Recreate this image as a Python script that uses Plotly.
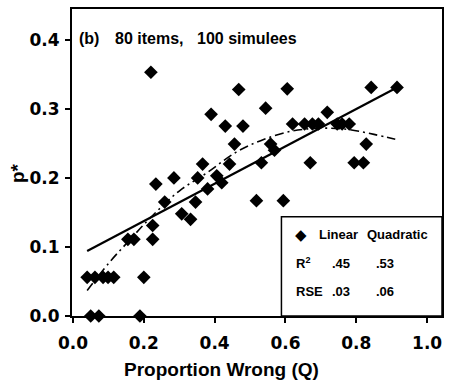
import plotly.graph_objects as go

# ---- data ----
prop_wrong = [0.22, 0.468, 0.39, 0.43, 0.48, 0.605, 0.544, 0.842, 0.915, 0.718,
              0.62, 0.654, 0.676, 0.693, 0.746, 0.76, 0.78,
              0.558, 0.569, 0.532, 0.67, 0.828, 0.794, 0.82, 0.518, 0.594,
              0.456, 0.366, 0.442, 0.285, 0.234, 0.352, 0.406, 0.42, 0.38,
              0.259, 0.346, 0.307, 0.332, 0.225, 0.225, 0.155, 0.172,
              0.04, 0.062, 0.085, 0.099, 0.115, 0.2,
              0.05, 0.073, 0.189]
p_star = [0.353, 0.328, 0.292, 0.275, 0.275, 0.329, 0.301, 0.331, 0.331, 0.295,
          0.278, 0.278, 0.278, 0.278, 0.278, 0.278, 0.278,
          0.249, 0.240, 0.222, 0.222, 0.249, 0.222, 0.222, 0.167, 0.167,
          0.249, 0.220, 0.220, 0.200, 0.191, 0.200, 0.203, 0.193, 0.184,
          0.165, 0.165, 0.148, 0.140, 0.131, 0.111, 0.111, 0.111,
          0.056, 0.056, 0.056, 0.056, 0.056, 0.056,
          0.0, 0.0, 0.0]

linear_x = [0.04, 0.915]
linear_y = [0.094, 0.331]

quad_x = [0.04, 0.10, 0.16, 0.22, 0.30, 0.38, 0.46, 0.54, 0.62, 0.70, 0.78, 0.85, 0.91]
quad_y = [0.037, 0.076, 0.110, 0.143, 0.181, 0.208, 0.237, 0.256, 0.268, 0.272, 0.270, 0.263, 0.256]

x_ticks = [0.0, 0.2, 0.4, 0.6, 0.8, 1.0]
x_tick_labels = ["0.0", "0.2", "0.4", "0.6", "0.8", "1.0"]
y_ticks = [0.0, 0.1, 0.2, 0.3, 0.4]
y_tick_labels = ["0.0", "0.1", "0.2", "0.3", "0.4"]

r2_values = [".45", ".53"]
rse_values = [".03", ".06"]

# ---- figure ----
fig = go.Figure()
fig.add_trace(go.Scatter(x=quad_x, y=quad_y, mode="lines", line_shape="spline",
                         line=dict(color="black", width=1.6, dash="9px,4px,2px,4px"),
                         hoverinfo="skip"))
fig.add_trace(go.Scatter(x=linear_x, y=linear_y, mode="lines",
                         line=dict(color="black", width=2.2), hoverinfo="skip"))
fig.add_trace(go.Scatter(x=prop_wrong, y=p_star, mode="markers", cliponaxis=False,
                         marker=dict(symbol="diamond", size=10.5, color="black",
                                     line=dict(width=0))))

tickfont = dict(family="DejaVu Sans", size=17, color="black", weight="bold")
fig.update_xaxes(range=[-0.0028, 1.042], tickvals=x_ticks, ticktext=x_tick_labels,
                 showline=True, linecolor="black", linewidth=2, mirror=True,
                 ticks="outside", ticklen=5, tickwidth=1.5, tickcolor="black",
                 showgrid=False, zeroline=False, tickfont=tickfont,
                 ticklabelstandoff=6)
fig.update_yaxes(range=[0, 0.4446], tickvals=y_ticks, ticktext=y_tick_labels,
                 showline=True, linecolor="black", linewidth=2, mirror=True,
                 ticks="outside", ticklen=5, tickwidth=1.5, tickcolor="black",
                 showgrid=False, zeroline=False, tickfont=tickfont,
                 ticklabelstandoff=2)

def px(xp):
    return (xp - 72) / 371.0

def py(yp):
    return (316 - yp) / 309.0

ann = []
title_font = dict(family="Arial", size=16, color="black", weight="bold")
ann.append(dict(text="(b)", x=px(77), y=py(37), xanchor="left", yanchor="middle", font=title_font))
ann.append(dict(text="80 items,", x=px(113), y=py(37), xanchor="left", yanchor="middle", font=title_font))
ann.append(dict(text="100 simulees", x=px(195), y=py(37), xanchor="left", yanchor="middle", font=title_font))

ann.append(dict(text="Proportion Wrong (Q)", x=px(222), y=py(370), xanchor="center", yanchor="middle",
                font=dict(family="Arial", size=19, color="black", weight="bold")))
ann.append(dict(text="p*", x=px(18), y=py(172), xanchor="center", yanchor="middle", textangle=-90,
                font=dict(family="Arial", size=19, color="black", weight="bold")))

box_font = dict(family="Arial", size=13, color="black", weight="bold")
ann.append(dict(text="◆", x=px(302), y=py(234), xanchor="center", yanchor="middle",
                font=dict(family="DejaVu Sans", size=15, color="black")))
ann.append(dict(text="Linear", x=px(318), y=py(234), xanchor="left", yanchor="middle", font=box_font))
ann.append(dict(text="Quadratic", x=px(366), y=py(234), xanchor="left", yanchor="middle", font=box_font))
ann.append(dict(text="R<sup>2</sup>", x=px(295), y=py(263), xanchor="left", yanchor="middle", font=box_font))
ann.append(dict(text="RSE", x=px(295), y=py(291), xanchor="left", yanchor="middle", font=box_font))
for v, xc in zip(r2_values, [342, 386]):
    ann.append(dict(text=v, x=px(xc), y=py(263), xanchor="center", yanchor="middle", font=box_font))
for v, xc in zip(rse_values, [342, 386]):
    ann.append(dict(text=v, x=px(xc), y=py(291), xanchor="center", yanchor="middle", font=box_font))

for a in ann:
    a.update(xref="paper", yref="paper", showarrow=False)

fig.update_layout(
    width=451, height=386,
    margin=dict(l=72, r=8, t=7, b=70),
    paper_bgcolor="white", plot_bgcolor="white",
    showlegend=False,
    annotations=ann,
    shapes=[dict(type="rect", xref="paper", yref="paper", x0=px(282), x1=1.0,
                 y0=0, y1=py(216), line=dict(color="black", width=1.5),
                 fillcolor="rgba(0,0,0,0)")],
)

fig.write_html("out.html")
